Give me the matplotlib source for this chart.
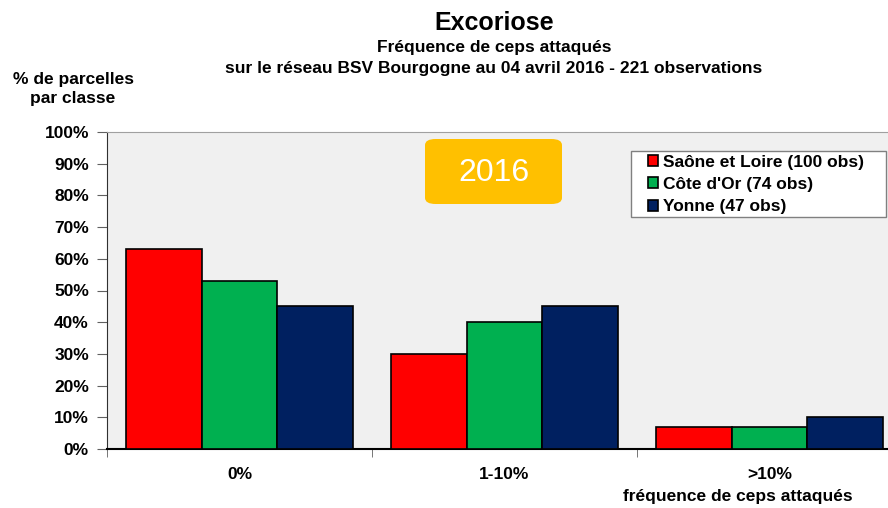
import matplotlib.pyplot as plt
import numpy as np
from matplotlib.patches import FancyBboxPatch, Rectangle

plt.rcParams['font.family'] = ['Liberation Sans', 'DejaVu Sans']
plt.rcParams['font.weight'] = 'bold'

# données
classes = ['0%', '1-10%', '>10%']
series = ['Saône et Loire (100 obs)', "Côte d'Or (74 obs)", 'Yonne (47 obs)']
saone = [63, 30, 7]
cote_or = [53, 40, 7]
yonne = [45, 45, 10]
colors = ['#FF0000', '#00B050', '#002060']

W, H = 888, 508
fs = 12.5
fig = plt.figure(figsize=(W / 100, H / 100), dpi=100)
fig.patch.set_facecolor('white')

# zone de tracé (pixels -> fractions)
left, right, top, bottom = 107, 888, 132, 449
ax = fig.add_axes([left / W, 1 - bottom / H, (right - left) / W, (bottom - top) / H])
ax.set_facecolor('#F0F0F0')

x = np.arange(len(classes))
bw = 0.285
for i, (vals, c, lab) in enumerate(zip([saone, cote_or, yonne], colors, series)):
    ax.bar(x + (i - 1) * bw, vals, width=bw, color=c, edgecolor='black',
           linewidth=1.2, label=lab, zorder=3)

ax.set_xlim(-0.5, -0.5 + (right - left) / 265)
ax.set_ylim(0, 100)
ax.set_yticks(range(0, 101, 10))
ax.set_yticklabels([f'{v}%' for v in range(0, 101, 10)], fontsize=fs, fontweight='bold')
ax.set_xticks(x)
ax.set_xticklabels(classes, fontsize=fs, fontweight='bold')
ax.set_xticks([-0.5, 0.5, 1.5], minor=True)
ax.tick_params(axis='x', which='major', length=0, pad=13)
ax.tick_params(axis='x', which='minor', length=6, direction='out', color='#606060')
ax.tick_params(axis='y', length=7, direction='out', color='#606060', pad=6)

ax.spines['top'].set_color('#A0A0A0')
ax.spines['right'].set_visible(False)
ax.spines['left'].set_color('#303030')
ax.spines['bottom'].set_color('black')
ax.spines['bottom'].set_linewidth(1.5)

# cadre de la légende
fig.patches.append(Rectangle((631 / W, 1 - 217 / H), (886 - 631) / W, (217 - 151) / H,
                             transform=fig.transFigure, facecolor='white',
                             edgecolor='#808080', linewidth=1, zorder=4))
leg = fig.legend(*ax.get_legend_handles_labels(), loc='upper left',
                 bbox_to_anchor=(645 / W, 1 - 152 / H), fontsize=fs, frameon=False,
                 borderaxespad=0, borderpad=0.15, handlelength=0.6, handleheight=0.6,
                 handletextpad=0.3, labelspacing=0.42)
leg.set_zorder(5)
for t in leg.get_texts():
    t.set_fontweight('bold')

# encart année
box = FancyBboxPatch((425 / W, 1 - 204 / H), (562 - 425) / W, (204 - 139) / H,
                     boxstyle='round,pad=0,rounding_size=0.012', transform=fig.transFigure,
                     facecolor='#FFC000', edgecolor='none', zorder=5)
fig.patches.append(box)
fig.text((425 + 562) / 2 / W, 1 - 173 / H, '2016', ha='center', va='center',
         fontsize=23, fontweight='normal', color='white', zorder=6)

# titres
fig.text(494 / W, 1 - 23 / H, 'Excoriose', ha='center', va='center', fontsize=18, fontweight='bold')
fig.text(494 / W, 1 - 47 / H, 'Fréquence de ceps attaqués', ha='center', va='center',
         fontsize=fs, fontweight='bold')
fig.text(494 / W, 1 - 68 / H, 'sur le réseau BSV Bourgogne au 04 avril 2016 - 221 observations',
         ha='center', va='center', fontsize=fs, fontweight='bold')
fig.text(73 / W, 1 - 89 / H, '% de parcelles\npar classe', ha='center', va='center',
         fontsize=fs, fontweight='bold', linespacing=1.3)
fig.text(738 / W, 1 - 497 / H, 'fréquence de ceps attaqués', ha='center', va='center',
         fontsize=fs, fontweight='bold')

fig.savefig('out.png', dpi=100)
